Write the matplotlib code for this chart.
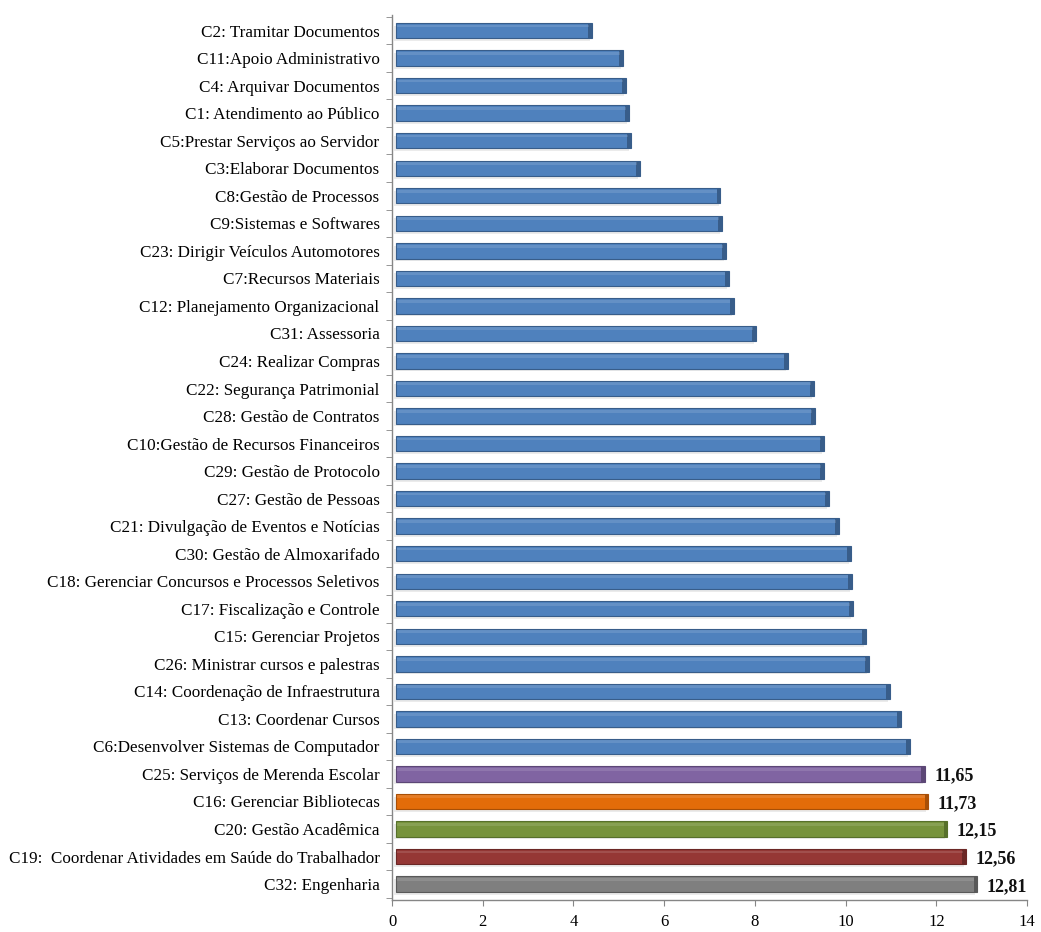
import matplotlib
matplotlib.use("Agg")
import matplotlib.pyplot as plt
import numpy as np

categories = [
    "C2: Tramitar Documentos",
    "C11:Apoio Administrativo",
    "C4: Arquivar Documentos",
    "C1: Atendimento ao Público",
    "C5:Prestar Serviços ao Servidor",
    "C3:Elaborar Documentos",
    "C8:Gestão de Processos",
    "C9:Sistemas e Softwares",
    "C23: Dirigir Veículos Automotores",
    "C7:Recursos Materiais",
    "C12: Planejamento Organizacional",
    "C31: Assessoria",
    "C24: Realizar Compras",
    "C22: Segurança Patrimonial",
    "C28: Gestão de Contratos",
    "C10:Gestão de Recursos Financeiros",
    "C29: Gestão de Protocolo",
    "C27: Gestão de Pessoas",
    "C21: Divulgação de Eventos e Notícias",
    "C30: Gestão de Almoxarifado",
    "C18: Gerenciar Concursos e Processos Seletivos",
    "C17: Fiscalização e Controle",
    "C15: Gerenciar Projetos",
    "C26: Ministrar cursos e palestras",
    "C14: Coordenação de Infraestrutura",
    "C13: Coordenar Cursos",
    "C6:Desenvolver Sistemas de Computador",
    "C25: Serviços de Merenda Escolar",
    "C16: Gerenciar Bibliotecas",
    "C20: Gestão Acadêmica",
    "C19:  Coordenar Atividades em Saúde do Trabalhador",
    "C32: Engenharia",
]
values = [4.32, 5.00, 5.07, 5.13, 5.18, 5.37, 7.15, 7.18, 7.27, 7.33, 7.44, 7.93,
          8.63, 9.21, 9.23, 9.43, 9.43, 9.54, 9.76, 10.02, 10.04, 10.07, 10.35,
          10.42, 10.88, 11.12, 11.32, 11.65, 11.73, 12.15, 12.56, 12.81]
value_labels = [""] * 27 + ["11,65", "11,73", "12,15", "12,56", "12,81"]
colors = ["#4F81BD"] * 27 + ["#8064A2", "#E36C09", "#77933C", "#953735", "#7F7F7F"]
edge_colors = ["#385D8A"] * 27 + ["#5C4776", "#A84F06", "#57702B", "#6B2725", "#595959"]
xticks = [0, 2, 4, 6, 8, 10, 12, 14]

plt.rcParams['font.family'] = ['Liberation Serif', 'DejaVu Serif']

fig = plt.figure(figsize=(10.41, 9.32), dpi=100)
ax = fig.add_axes([0.3766, 0.0343, 0.6100, 0.9500])

n = len(categories)
y = np.arange(n)
h = 0.56
# faint shadow
ax.barh(y + 0.10, values, height=h, left=0.05, color="#C8C8C8", alpha=0.35, zorder=1, linewidth=0)
ax.barh(y, values, height=h, left=0.09, color=colors, edgecolor=edge_colors,
        linewidth=0.8, zorder=2)
# darker end caps for a 3D feel
for yi, v, ec in zip(y, values, edge_colors):
    ax.barh(yi, 0.08, height=h, left=0.09 + v - 0.08, color=ec, linewidth=0, zorder=3)
# highlight top strip
for yi, v in zip(y, values):
    ax.barh(yi - h * 0.30, v - 0.1, height=h * 0.18, left=0.12, color="white", alpha=0.12,
            linewidth=0, zorder=3)

for yi, v, lab in zip(y, values, value_labels):
    if lab:
        ax.text(v + 0.3, yi + 0.08, lab, va="center", ha="left", fontsize=13,
                fontweight="bold", color="#111111")

ax.set_ylim(n - 1 + 0.58, -0.58)
ax.set_xlim(0, 14)
ax.set_xticks(xticks)
ax.set_xticklabels([str(t) for t in xticks], fontsize=12)
ax.set_yticks(y)
ax.set_yticklabels(categories, fontsize=12.3)
ax.set_yticks(np.arange(-0.5, n + 0.5, 1.0), minor=True)
ax.tick_params(axis="y", which="major", length=0, pad=9)
ax.tick_params(axis="y", which="minor", length=4, color="#868686", direction="out")
ax.tick_params(axis="x", which="major", length=4, color="#868686", direction="out", pad=6)

for s in ["top", "right"]:
    ax.spines[s].set_visible(False)
for s in ["left", "bottom"]:
    ax.spines[s].set_color("#868686")
    ax.spines[s].set_linewidth(1.0)

fig.savefig("out.png", dpi=100)
